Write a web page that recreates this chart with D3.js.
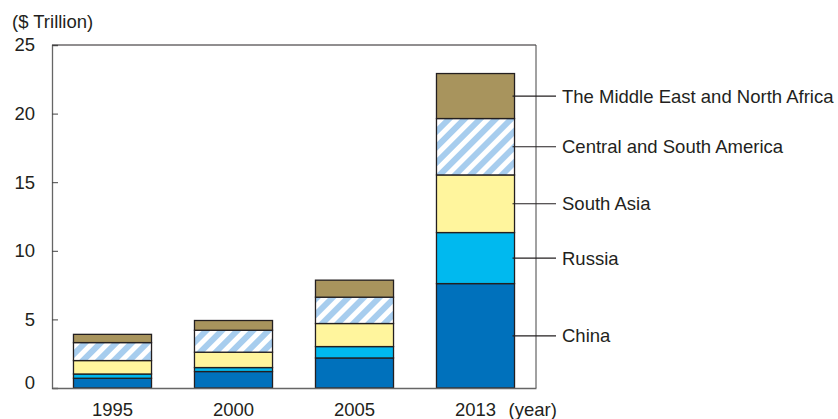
<!DOCTYPE html>
<html>
<head>
<meta charset="utf-8">
<script src="https://cdn.jsdelivr.net/npm/d3@7"></script>
<style>
  body { margin: 0; background: #fff; }
  text { font-family: "Liberation Sans", Arial, Helvetica, sans-serif; fill: #231f20; }
</style>
</head>
<body>
<svg width="838" height="419"></svg>
<script>
var years = ["1995", "2000", "2005", "2013"];
var regions = ["China", "Russia", "South Asia", "Central and South America", "The Middle East and North Africa"];
var china = [0.71, 1.20, 2.19, 7.61];
var russia = [0.31, 0.29, 0.83, 3.72];
var southAsia = [0.98, 1.12, 1.68, 4.20];
var centralSouthAmerica = [1.31, 1.60, 1.92, 4.11];
var middleEastNorthAfrica = [0.60, 0.71, 1.24, 3.28];
var yTicks = [0, 5, 10, 15, 20, 25];

var series = [china, russia, southAsia, centralSouthAmerica, middleEastNorthAfrica];
var fs = 18.5;

var svg = d3.select("svg"),
    margin = {top: 45, right: 302, bottom: 31, left: 52},
    width = +svg.attr("width") - margin.left - margin.right,
    height = +svg.attr("height") - margin.top - margin.bottom,
    g = svg.append("g").attr("transform", "translate(" + margin.left + "," + margin.top + ")");

var color = d3.scaleOrdinal()
    .domain(regions)
    .range(["#0071bc", "#00b9ef", "#fff59d", "url(#hatch)", "#a8945d"]);

// diagonal hatch for Central and South America
var defs = svg.append("defs");
var pat = defs.append("pattern")
    .attr("id", "hatch")
    .attr("patternUnits", "userSpaceOnUse")
    .attr("width", 11)
    .attr("height", 11)
    .attr("patternTransform", "rotate(45)");
pat.append("rect").attr("width", 11).attr("height", 11).attr("fill", "#fff");
pat.append("rect").attr("width", 6).attr("height", 11).attr("fill", "#a7cdee");

var table = years.map(function(y, i) {
  var row = {year: y};
  regions.forEach(function(r, j) { row[r] = series[j][i]; });
  return row;
});

var stack = d3.stack().keys(regions);
var stacked = stack(table);

var x = d3.scaleBand()
    .domain(years)
    .range([0, width])
    .paddingInner(0.355)
    .paddingOuter(0.1775);

var y = d3.scaleLinear()
    .domain([0, 25])
    .range([height, 0]);

// frame
g.append("line").attr("x1", 0).attr("x2", width).attr("y1", 0).attr("y2", 0).attr("stroke", "#231f20");
g.append("line").attr("x1", width).attr("x2", width).attr("y1", 0).attr("y2", height).attr("stroke", "#444");

var layer = g.selectAll(".layer")
  .data(stacked)
  .enter().append("g")
    .attr("class", "layer")
    .attr("fill", function(d) { return color(d.key); });

layer.selectAll("rect")
  .data(function(d) { return d; })
  .enter().append("rect")
    .attr("x", function(d) { return x(d.data.year); })
    .attr("y", function(d) { return y(d[1]); })
    .attr("width", x.bandwidth())
    .attr("height", function(d) { return y(d[0]) - y(d[1]); })
    .attr("stroke", "#231f20")
    .attr("stroke-width", 1.3);

// y axis
var yAxis = g.append("g")
    .call(d3.axisLeft(y).tickValues(yTicks).tickSize(-6).tickPadding(17));
yAxis.select(".domain").attr("stroke", "#666").attr("stroke-width", 1.3);
yAxis.selectAll(".tick line").attr("stroke", "#444");
yAxis.selectAll(".tick text")
    .attr("font-size", fs)
    .attr("font-family", "Liberation Sans, Arial, sans-serif")
    .attr("fill", "#231f20")
    .attr("dy", function(d) { return d === 0 ? "0.05em" : "0.32em"; });

// x axis
var xAxis = g.append("g")
    .attr("transform", "translate(0," + height + ")")
    .call(d3.axisBottom(x).tickSize(0).tickPadding(14.5));
xAxis.select(".domain").attr("stroke", "#666").attr("stroke-width", 1.3);
xAxis.selectAll(".tick text")
    .attr("font-size", fs)
    .attr("font-family", "Liberation Sans, Arial, sans-serif")
    .attr("fill", "#231f20");

g.append("text")
    .attr("x", x("2013") + x.bandwidth() / 2 + 33)
    .attr("y", height + 27.5)
    .attr("font-size", fs)
    .text("(year)");

svg.append("text")
    .attr("x", 12)
    .attr("y", 28)
    .attr("font-size", fs)
    .text("($ Trillion)");

// callout labels at the 2013 bar
var last = years.length - 1;
var labels = g.selectAll(".callout")
  .data(stacked)
  .enter().append("g")
    .attr("class", "callout")
    .attr("transform", function(d) {
      var s = d[last];
      return "translate(0," + y((s[0] + s[1]) / 2) + ")";
    });

labels.append("line")
    .attr("x1", x("2013") + x.bandwidth() - 2)
    .attr("x2", width + 20)
    .attr("stroke", "#231f20")
    .attr("stroke-width", 1.2);

labels.append("text")
    .attr("x", width + 26)
    .attr("dy", "0.35em")
    .attr("font-size", fs)
    .text(function(d) { return d.key; });
</script>
</body>
</html>
